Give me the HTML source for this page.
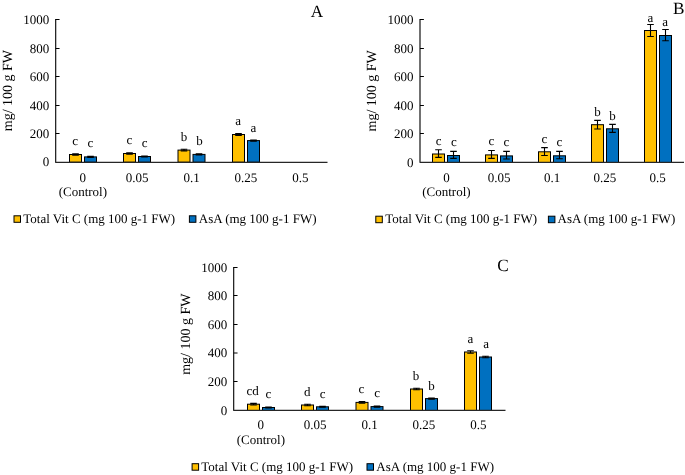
<!DOCTYPE html><html><head><meta charset="utf-8"><style>html,body{margin:0;padding:0;background:#fff;width:685px;height:475px;overflow:hidden}svg{display:block;will-change:transform}text{text-rendering:geometricPrecision;font-family:"Liberation Serif", serif;fill:#000}</style></head><body>
<svg width="685" height="475" viewBox="0 0 685 475">
<rect width="685" height="475" fill="#fff"/>
<g><rect x="69.50" y="154.50" width="12" height="7.70" fill="#FFC000" stroke="#000" stroke-width="1"/><path d="M75.50 153.70V155.30M72.20 153.70H78.80M72.20 155.30H78.80" stroke="#000" stroke-width="1.1" fill="none"/><rect x="84.50" y="156.90" width="12" height="5.30" fill="#0070C0" stroke="#000" stroke-width="1"/><path d="M90.50 156.40V157.40M87.20 156.40H93.80M87.20 157.40H93.80" stroke="#000" stroke-width="1.1" fill="none"/><rect x="123.50" y="153.50" width="12" height="8.70" fill="#FFC000" stroke="#000" stroke-width="1"/><path d="M129.50 152.75V154.25M126.20 152.75H132.80M126.20 154.25H132.80" stroke="#000" stroke-width="1.1" fill="none"/><rect x="138.50" y="156.50" width="12" height="5.70" fill="#0070C0" stroke="#000" stroke-width="1"/><path d="M144.50 156.00V157.00M141.20 156.00H147.80M141.20 157.00H147.80" stroke="#000" stroke-width="1.1" fill="none"/><rect x="178.00" y="150.10" width="12" height="12.10" fill="#FFC000" stroke="#000" stroke-width="1"/><path d="M184.00 149.30V150.90M180.70 149.30H187.30M180.70 150.90H187.30" stroke="#000" stroke-width="1.1" fill="none"/><rect x="193.00" y="154.40" width="12" height="7.80" fill="#0070C0" stroke="#000" stroke-width="1"/><path d="M199.00 153.90V154.90M195.70 153.90H202.30M195.70 154.90H202.30" stroke="#000" stroke-width="1.1" fill="none"/><rect x="232.50" y="134.50" width="12" height="27.70" fill="#FFC000" stroke="#000" stroke-width="1"/><path d="M238.50 133.65V135.35M235.20 133.65H241.80M235.20 135.35H241.80" stroke="#000" stroke-width="1.1" fill="none"/><rect x="247.50" y="140.60" width="12" height="21.60" fill="#0070C0" stroke="#000" stroke-width="1"/><path d="M253.50 140.10V141.10M250.20 140.10H256.80M250.20 141.10H256.80" stroke="#000" stroke-width="1.1" fill="none"/><path d="M55.65 19.00V162.35H327.5" stroke="#262626" stroke-width="1.3" stroke-linejoin="round" fill="none"/><text x="49.3" y="166.35" font-size="13" text-anchor="end">0</text><path d="M55.65 133.50H59.55" stroke="#000" stroke-width="1" fill="none"/><text x="49.3" y="137.65" font-size="13" text-anchor="end">200</text><path d="M55.65 105.50H59.55" stroke="#000" stroke-width="1" fill="none"/><text x="49.3" y="109.65" font-size="13" text-anchor="end">400</text><path d="M55.65 76.50H59.55" stroke="#000" stroke-width="1" fill="none"/><text x="49.3" y="80.65" font-size="13" text-anchor="end">600</text><path d="M55.65 48.50H59.55" stroke="#000" stroke-width="1" fill="none"/><text x="49.3" y="52.65" font-size="13" text-anchor="end">800</text><path d="M55.65 19.50H59.55" stroke="#000" stroke-width="1" fill="none"/><text x="49.3" y="23.65" font-size="13" text-anchor="end">1000</text><text x="82.84" y="181.5" font-size="13" text-anchor="middle">0</text><text x="137.21" y="181.5" font-size="13" text-anchor="middle">0.05</text><text x="191.58" y="181.5" font-size="13" text-anchor="middle">0.1</text><text x="245.95" y="181.5" font-size="13" text-anchor="middle">0.25</text><text x="300.31" y="181.5" font-size="13" text-anchor="middle">0.5</text><text x="82.84" y="195.8" font-size="13" text-anchor="middle">(Control)</text><text transform="translate(11.7,131.2) rotate(-90)" x="0" y="0" font-size="14">mg/ 100 g FW</text><text x="310.7" y="16.6" font-size="17.2">A</text><text x="75.1" y="145.4" font-size="13" text-anchor="middle">c</text><text x="90.4" y="147.4" font-size="13" text-anchor="middle">c</text><text x="129.5" y="143.5" font-size="13" text-anchor="middle">c</text><text x="144.7" y="146.7" font-size="13" text-anchor="middle">c</text><text x="184.1" y="140.9" font-size="13" text-anchor="middle">b</text><text x="199.5" y="145.3" font-size="13" text-anchor="middle">b</text><text x="238.2" y="124.8" font-size="13" text-anchor="middle">a</text><text x="253.4" y="131.6" font-size="13" text-anchor="middle">a</text><rect x="14.0" y="215.8" width="6.5" height="6.5" fill="#FFC000" stroke="#000" stroke-width="1"/><text x="23.3" y="222.5" font-size="13">Total Vit C (mg 100 g-1 FW)</text><rect x="189.4" y="215.8" width="6.5" height="6.5" fill="#0070C0" stroke="#000" stroke-width="1"/><text x="198.8" y="222.5" font-size="13">AsA (mg 100 g-1 FW)</text></g>
<g><rect x="432.50" y="154.00" width="12" height="8.50" fill="#FFC000" stroke="#000" stroke-width="1"/><path d="M438.50 149.70V157.40M435.20 149.70H441.80M435.20 157.40H441.80" stroke="#000" stroke-width="1.1" fill="none"/><rect x="447.50" y="155.50" width="12" height="7.00" fill="#0070C0" stroke="#000" stroke-width="1"/><path d="M453.50 151.40V158.40M450.20 151.40H456.80M450.20 158.40H456.80" stroke="#000" stroke-width="1.1" fill="none"/><rect x="485.50" y="154.90" width="12" height="7.60" fill="#FFC000" stroke="#000" stroke-width="1"/><path d="M491.50 150.50V158.40M488.20 150.50H494.80M488.20 158.40H494.80" stroke="#000" stroke-width="1.1" fill="none"/><rect x="500.50" y="155.90" width="12" height="6.60" fill="#0070C0" stroke="#000" stroke-width="1"/><path d="M506.50 151.40V159.00M503.20 151.40H509.80M503.20 159.00H509.80" stroke="#000" stroke-width="1.1" fill="none"/><rect x="538.50" y="151.80" width="12" height="10.70" fill="#FFC000" stroke="#000" stroke-width="1"/><path d="M544.50 147.60V155.50M541.20 147.60H547.80M541.20 155.50H547.80" stroke="#000" stroke-width="1.1" fill="none"/><rect x="553.50" y="155.80" width="12" height="6.70" fill="#0070C0" stroke="#000" stroke-width="1"/><path d="M559.50 151.40V158.70M556.20 151.40H562.80M556.20 158.70H562.80" stroke="#000" stroke-width="1.1" fill="none"/><rect x="591.50" y="124.70" width="12" height="37.80" fill="#FFC000" stroke="#000" stroke-width="1"/><path d="M597.50 120.40V129.00M594.20 120.40H600.80M594.20 129.00H600.80" stroke="#000" stroke-width="1.1" fill="none"/><rect x="606.50" y="128.80" width="12" height="33.70" fill="#0070C0" stroke="#000" stroke-width="1"/><path d="M612.50 124.40V132.40M609.20 124.40H615.80M609.20 132.40H615.80" stroke="#000" stroke-width="1.1" fill="none"/><rect x="644.50" y="30.50" width="12" height="132.00" fill="#FFC000" stroke="#000" stroke-width="1"/><path d="M650.50 24.50V36.50M647.20 24.50H653.80M647.20 36.50H653.80" stroke="#000" stroke-width="1.1" fill="none"/><rect x="659.50" y="35.50" width="12" height="127.00" fill="#0070C0" stroke="#000" stroke-width="1"/><path d="M665.50 29.50V40.80M662.20 29.50H668.80M662.20 40.80H668.80" stroke="#000" stroke-width="1.1" fill="none"/><path d="M420.0 19.00V162.35H684.0" stroke="#262626" stroke-width="1.3" stroke-linejoin="round" fill="none"/><text x="413.6" y="166.65" font-size="13" text-anchor="end">0</text><path d="M420.0 133.50H423.90" stroke="#000" stroke-width="1" fill="none"/><text x="413.6" y="137.65" font-size="13" text-anchor="end">200</text><path d="M420.0 105.50H423.90" stroke="#000" stroke-width="1" fill="none"/><text x="413.6" y="109.65" font-size="13" text-anchor="end">400</text><path d="M420.0 76.50H423.90" stroke="#000" stroke-width="1" fill="none"/><text x="413.6" y="80.65" font-size="13" text-anchor="end">600</text><path d="M420.0 48.50H423.90" stroke="#000" stroke-width="1" fill="none"/><text x="413.6" y="52.65" font-size="13" text-anchor="end">800</text><path d="M420.0 19.50H423.90" stroke="#000" stroke-width="1" fill="none"/><text x="413.6" y="23.65" font-size="13" text-anchor="end">1000</text><text x="446.40" y="181.7" font-size="13" text-anchor="middle">0</text><text x="499.20" y="181.7" font-size="13" text-anchor="middle">0.05</text><text x="552.00" y="181.7" font-size="13" text-anchor="middle">0.1</text><text x="604.80" y="181.7" font-size="13" text-anchor="middle">0.25</text><text x="657.60" y="181.7" font-size="13" text-anchor="middle">0.5</text><text x="446.40" y="195.9" font-size="13" text-anchor="middle">(Control)</text><text transform="translate(375.8,131.5) rotate(-90)" x="0" y="0" font-size="14">mg/ 100 g FW</text><text x="672.9" y="14.2" font-size="17.2">B</text><text x="438.7" y="144.7" font-size="13" text-anchor="middle">c</text><text x="453.8" y="145.8" font-size="13" text-anchor="middle">c</text><text x="491.3" y="145.2" font-size="13" text-anchor="middle">c</text><text x="506.3" y="145.6" font-size="13" text-anchor="middle">c</text><text x="544.3" y="142.5" font-size="13" text-anchor="middle">c</text><text x="559.3" y="145.6" font-size="13" text-anchor="middle">c</text><text x="597.6" y="116.0" font-size="13" text-anchor="middle">b</text><text x="612.4" y="119.8" font-size="13" text-anchor="middle">b</text><text x="650.4" y="21.7" font-size="13" text-anchor="middle">a</text><text x="665.2" y="26.3" font-size="13" text-anchor="middle">a</text><rect x="375.8" y="216.2" width="6.5" height="6.5" fill="#FFC000" stroke="#000" stroke-width="1"/><text x="385.3" y="222.8" font-size="13">Total Vit C (mg 100 g-1 FW)</text><rect x="548.4" y="216.2" width="6.5" height="6.5" fill="#0070C0" stroke="#000" stroke-width="1"/><text x="557.5" y="222.8" font-size="13">AsA (mg 100 g-1 FW)</text></g>
<g><rect x="247.50" y="404.20" width="12" height="6.30" fill="#FFC000" stroke="#000" stroke-width="1"/><path d="M253.50 403.40V405.00M250.20 403.40H256.80M250.20 405.00H256.80" stroke="#000" stroke-width="1.1" fill="none"/><rect x="262.50" y="407.50" width="12" height="3.00" fill="#0070C0" stroke="#000" stroke-width="1"/><path d="M268.50 407.00V408.00M265.20 407.00H271.80M265.20 408.00H271.80" stroke="#000" stroke-width="1.1" fill="none"/><rect x="301.50" y="405.00" width="12" height="5.50" fill="#FFC000" stroke="#000" stroke-width="1"/><path d="M307.50 404.20V405.80M304.20 404.20H310.80M304.20 405.80H310.80" stroke="#000" stroke-width="1.1" fill="none"/><rect x="316.50" y="406.80" width="12" height="3.70" fill="#0070C0" stroke="#000" stroke-width="1"/><path d="M322.50 406.30V407.30M319.20 406.30H325.80M319.20 407.30H325.80" stroke="#000" stroke-width="1.1" fill="none"/><rect x="356.00" y="402.40" width="12" height="8.10" fill="#FFC000" stroke="#000" stroke-width="1"/><path d="M362.00 401.60V403.20M358.70 401.60H365.30M358.70 403.20H365.30" stroke="#000" stroke-width="1.1" fill="none"/><rect x="371.00" y="406.60" width="12" height="3.90" fill="#0070C0" stroke="#000" stroke-width="1"/><path d="M377.00 406.10V407.10M373.70 406.10H380.30M373.70 407.10H380.30" stroke="#000" stroke-width="1.1" fill="none"/><rect x="410.50" y="389.00" width="12" height="21.50" fill="#FFC000" stroke="#000" stroke-width="1"/><path d="M416.50 388.20V389.80M413.20 388.20H419.80M413.20 389.80H419.80" stroke="#000" stroke-width="1.1" fill="none"/><rect x="425.50" y="398.60" width="12" height="11.90" fill="#0070C0" stroke="#000" stroke-width="1"/><path d="M431.50 398.10V399.10M428.20 398.10H434.80M428.20 399.10H434.80" stroke="#000" stroke-width="1.1" fill="none"/><rect x="464.50" y="352.00" width="12" height="58.50" fill="#FFC000" stroke="#000" stroke-width="1"/><path d="M470.50 350.70V353.30M467.20 350.70H473.80M467.20 353.30H473.80" stroke="#000" stroke-width="1.1" fill="none"/><rect x="479.50" y="357.00" width="12" height="53.50" fill="#0070C0" stroke="#000" stroke-width="1"/><path d="M485.50 356.30V357.70M482.20 356.30H488.80M482.20 357.70H488.80" stroke="#000" stroke-width="1.1" fill="none"/><path d="M233.65 267.00V410.35H505.5" stroke="#262626" stroke-width="1.3" stroke-linejoin="round" fill="none"/><text x="227.3" y="414.65" font-size="13" text-anchor="end">0</text><path d="M233.65 381.50H237.55" stroke="#000" stroke-width="1" fill="none"/><text x="227.3" y="385.65" font-size="13" text-anchor="end">200</text><path d="M233.65 353.00H237.55" stroke="#000" stroke-width="1" fill="none"/><text x="227.3" y="357.15" font-size="13" text-anchor="end">400</text><path d="M233.65 324.50H237.55" stroke="#000" stroke-width="1" fill="none"/><text x="227.3" y="328.65" font-size="13" text-anchor="end">600</text><path d="M233.65 295.50H237.55" stroke="#000" stroke-width="1" fill="none"/><text x="227.3" y="299.65" font-size="13" text-anchor="end">800</text><path d="M233.65 267.50H237.55" stroke="#000" stroke-width="1" fill="none"/><text x="227.3" y="271.65" font-size="13" text-anchor="end">1000</text><text x="260.84" y="429.4" font-size="13" text-anchor="middle">0</text><text x="315.21" y="429.4" font-size="13" text-anchor="middle">0.05</text><text x="369.58" y="429.4" font-size="13" text-anchor="middle">0.1</text><text x="423.95" y="429.4" font-size="13" text-anchor="middle">0.25</text><text x="478.32" y="429.4" font-size="13" text-anchor="middle">0.5</text><text x="260.84" y="444.1" font-size="13" text-anchor="middle">(Control)</text><text transform="translate(189.8,374.8) rotate(-90)" x="0" y="0" font-size="14">mg/ 100 g FW</text><text x="497.3" y="271.4" font-size="17.2">C</text><text x="252.7" y="395.0" font-size="13" text-anchor="middle">cd</text><text x="268.4" y="397.9" font-size="13" text-anchor="middle">c</text><text x="307.2" y="396.1" font-size="13" text-anchor="middle">d</text><text x="322.6" y="397.6" font-size="13" text-anchor="middle">c</text><text x="361.5" y="392.9" font-size="13" text-anchor="middle">c</text><text x="377.1" y="396.6" font-size="13" text-anchor="middle">c</text><text x="416.1" y="380.4" font-size="13" text-anchor="middle">b</text><text x="431.6" y="390.1" font-size="13" text-anchor="middle">b</text><text x="470.4" y="343.2" font-size="13" text-anchor="middle">a</text><text x="486.1" y="348.3" font-size="13" text-anchor="middle">a</text><rect x="192.1" y="463.7" width="6.5" height="6.5" fill="#FFC000" stroke="#000" stroke-width="1"/><text x="201.3" y="471.0" font-size="13">Total Vit C (mg 100 g-1 FW)</text><rect x="367.0" y="463.7" width="6.5" height="6.5" fill="#0070C0" stroke="#000" stroke-width="1"/><text x="376.3" y="471.0" font-size="13">AsA (mg 100 g-1 FW)</text></g>
</svg></body></html>
